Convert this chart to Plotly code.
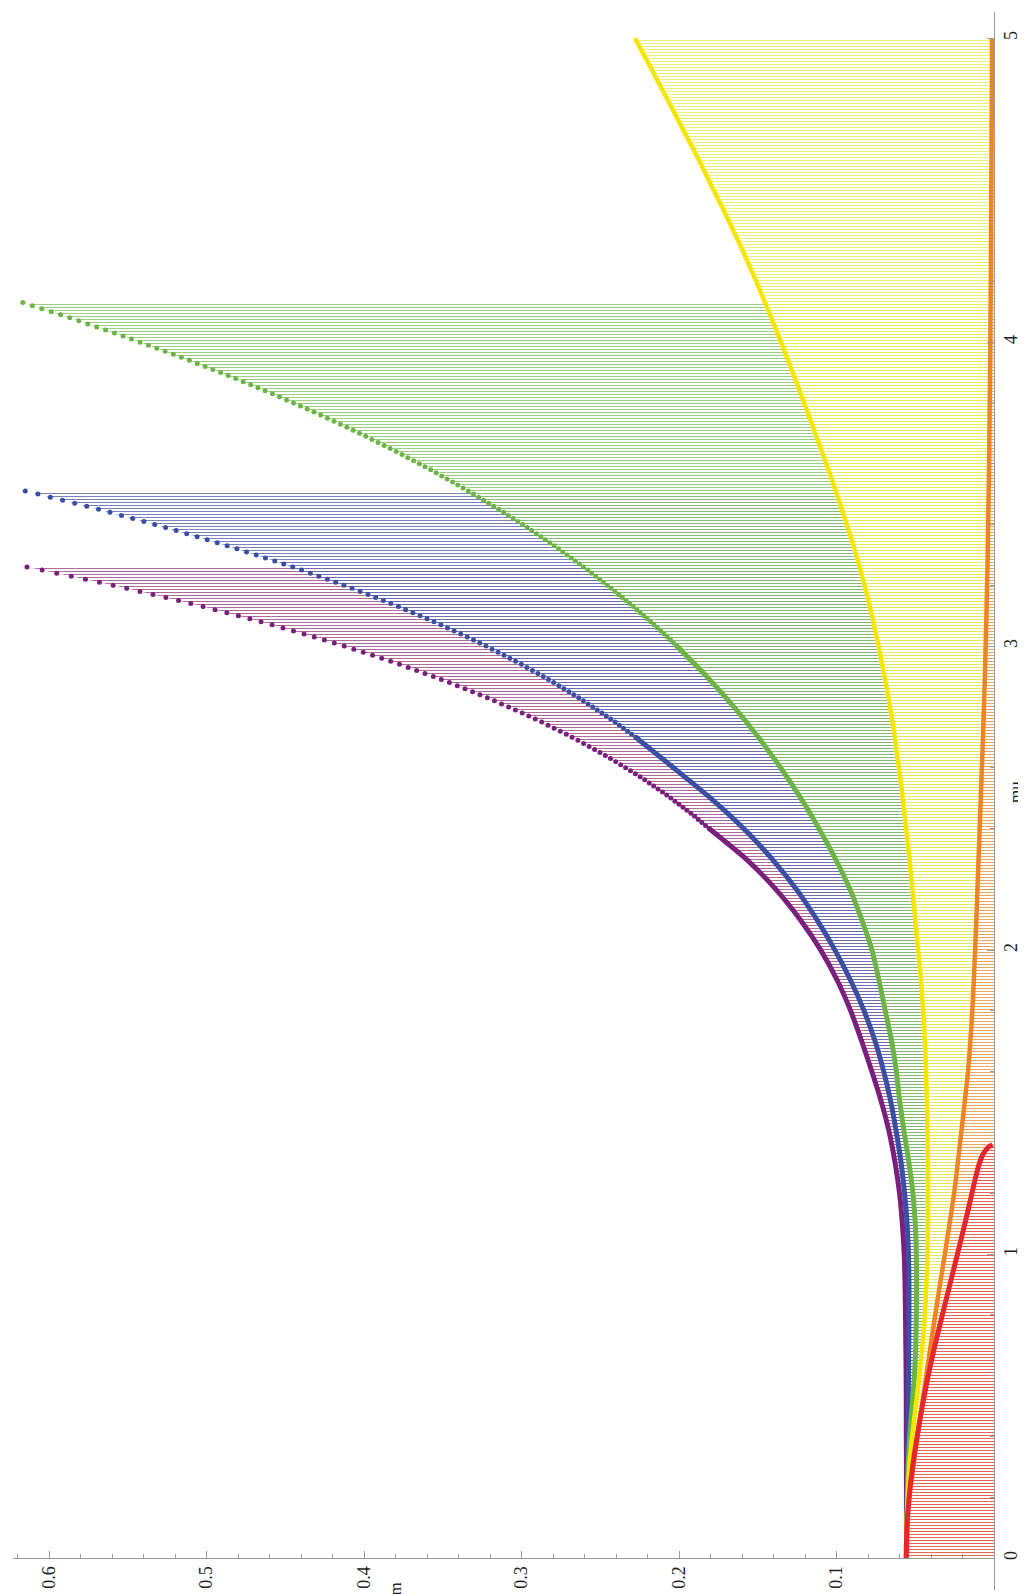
import plotly.graph_objects as go

# ---------------- data (m as a function of mu) ----------------
MU_COARSE = [0.0, 0.1, 0.2, 0.3, 0.4, 0.5, 0.6, 0.7, 0.8, 0.9,
             1.0, 1.1, 1.2, 1.3, 1.4, 1.5, 1.6, 1.7, 1.8, 1.9,
             2.0, 2.1, 2.2, 2.3, 2.4, 2.5, 2.6, 2.7, 2.8, 2.9,
             3.0, 3.1, 3.2, 3.3, 3.4, 3.5, 3.6, 3.7, 3.8, 3.9,
             4.0, 4.1, 4.2, 4.3, 4.4, 4.5, 4.6, 4.7, 4.8, 4.9, 5.0]

purple_coarse = [0.0555, 0.0556, 0.0556, 0.0556, 0.0557, 0.0557, 0.0558, 0.0560, 0.0562, 0.0565,
                 0.0570, 0.0582, 0.0600, 0.0628, 0.0665, 0.0715, 0.0775, 0.0840, 0.0910, 0.0995,
                 0.1100, 0.1230, 0.1385, 0.1575]
purple_fine_start = 2.40
purple_fine = [0.1809, 0.1832, 0.1855, 0.1878, 0.1901, 0.1925, 0.1950, 0.1975, 0.2000, 0.2026,
               0.2052, 0.2078, 0.2105, 0.2133, 0.2161, 0.2189, 0.2218, 0.2247, 0.2277, 0.2308,
               0.2339, 0.2370, 0.2402, 0.2435, 0.2468, 0.2502, 0.2536, 0.2571, 0.2606, 0.2642,
               0.2679, 0.2716, 0.2754, 0.2793, 0.2832, 0.2872, 0.2913, 0.2954, 0.2996, 0.3039,
               0.3082, 0.3127, 0.3172, 0.3217, 0.3264, 0.3311, 0.3359, 0.3408, 0.3458, 0.3509,
               0.3560, 0.3613, 0.3666, 0.3720, 0.3775, 0.3831, 0.3888, 0.3946, 0.4005, 0.4065,
               0.4126, 0.4189, 0.4252, 0.4316, 0.4381, 0.4448, 0.4515, 0.4584, 0.4654, 0.4725,
               0.4798, 0.4871, 0.4946, 0.5022, 0.5100, 0.5178, 0.5258, 0.5340, 0.5423, 0.5507,
               0.5593, 0.5680, 0.5769, 0.5859, 0.5951, 0.6044, 0.6140]

blue_coarse = [0.0555, 0.0554, 0.0552, 0.0550, 0.0547, 0.0545, 0.0543, 0.0541, 0.0540, 0.0540,
               0.0543, 0.0552, 0.0568, 0.0590, 0.0620, 0.0655, 0.0700, 0.0755, 0.0825, 0.0910,
               0.1010, 0.1125, 0.1255, 0.1410, 0.1590, 0.1800, 0.2035]
blue_fine_start = 2.70
blue_fine = [0.2275, 0.2301, 0.2326, 0.2353, 0.2379, 0.2406, 0.2434, 0.2462, 0.2490, 0.2519,
             0.2548, 0.2577, 0.2607, 0.2637, 0.2668, 0.2699, 0.2731, 0.2763, 0.2796, 0.2829,
             0.2862, 0.2896, 0.2931, 0.2966, 0.3001, 0.3038, 0.3074, 0.3111, 0.3149, 0.3187,
             0.3226, 0.3265, 0.3305, 0.3345, 0.3386, 0.3428, 0.3470, 0.3512, 0.3556, 0.3600,
             0.3644, 0.3690, 0.3736, 0.3782, 0.3830, 0.3877, 0.3926, 0.3975, 0.4025, 0.4076,
             0.4128, 0.4180, 0.4233, 0.4287, 0.4341, 0.4397, 0.4453, 0.4510, 0.4567, 0.4626,
             0.4685, 0.4746, 0.4807, 0.4869, 0.4932, 0.4996, 0.5060, 0.5126, 0.5193, 0.5260,
             0.5329, 0.5398, 0.5469, 0.5540, 0.5613, 0.5686, 0.5761, 0.5837, 0.5914, 0.5992,
             0.6071, 0.6151]

green_coarse = [0.0555, 0.0553, 0.0550, 0.0545, 0.0535, 0.0520, 0.0505, 0.0497, 0.0493, 0.0492,
                0.0493, 0.0500, 0.0515, 0.0540, 0.0570, 0.0598, 0.0620, 0.0650, 0.0690, 0.0730,
                0.0775, 0.0840, 0.0915, 0.1007, 0.1112, 0.1227, 0.1355, 0.1496, 0.1652, 0.1824]
green_fine_start = 3.00
green_fine = [0.2014, 0.2034, 0.2054, 0.2075, 0.2095, 0.2116, 0.2137, 0.2158, 0.2180, 0.2202,
              0.2224, 0.2246, 0.2268, 0.2291, 0.2314, 0.2337, 0.2360, 0.2383, 0.2407, 0.2431,
              0.2455, 0.2480, 0.2504, 0.2529, 0.2555, 0.2580, 0.2606, 0.2632, 0.2658, 0.2684,
              0.2711, 0.2738, 0.2765, 0.2793, 0.2821, 0.2849, 0.2877, 0.2906, 0.2935, 0.2964,
              0.2993, 0.3023, 0.3053, 0.3084, 0.3114, 0.3145, 0.3177, 0.3208, 0.3240, 0.3272,
              0.3305, 0.3338, 0.3371, 0.3405, 0.3438, 0.3473, 0.3507, 0.3542, 0.3577, 0.3613,
              0.3649, 0.3685, 0.3722, 0.3759, 0.3796, 0.3834, 0.3872, 0.3911, 0.3950, 0.3989,
              0.4029, 0.4069, 0.4109, 0.4150, 0.4191, 0.4233, 0.4275, 0.4318, 0.4361, 0.4404,
              0.4448, 0.4492, 0.4537, 0.4582, 0.4628, 0.4674, 0.4720, 0.4767, 0.4815, 0.4863,
              0.4911, 0.4960, 0.5009, 0.5059, 0.5109, 0.5160, 0.5211, 0.5263, 0.5316, 0.5369,
              0.5422, 0.5476, 0.5530, 0.5585, 0.5641, 0.5697, 0.5754, 0.5811, 0.5869, 0.5927,
              0.5986, 0.6046, 0.6106, 0.6167]

yellow_m = [0.0556, 0.0556, 0.0548, 0.0538, 0.0520, 0.0497, 0.0474, 0.0454, 0.0439, 0.0429,
            0.0423, 0.0420, 0.0419, 0.0420, 0.0422, 0.0426, 0.0431, 0.0439, 0.0450, 0.0464,
            0.0482, 0.0500, 0.0518, 0.0537, 0.0558, 0.0580, 0.0604, 0.0630, 0.0660, 0.0695,
            0.0733, 0.0775, 0.0822, 0.0875, 0.0935, 0.0998, 0.1065, 0.1135, 0.1205, 0.1278,
            0.1353, 0.1430, 0.1510, 0.1595, 0.1685, 0.1780, 0.1875, 0.1975, 0.2075, 0.2177,
            0.2280]

orange_m = [0.0556, 0.0552, 0.0537, 0.0513, 0.0486, 0.0458, 0.0430, 0.0402, 0.0373, 0.0343,
            0.0312, 0.0282, 0.0253, 0.0230, 0.0208, 0.0186, 0.0165, 0.0150, 0.0138, 0.0128,
            0.0120, 0.0112, 0.0105, 0.0098, 0.0091, 0.0084, 0.0077, 0.0070, 0.0064, 0.0058,
            0.0053, 0.0048, 0.0044, 0.0040, 0.0037, 0.0034, 0.0031, 0.0029, 0.0027, 0.0025,
            0.0023, 0.0022, 0.0020, 0.0019, 0.0018, 0.0017, 0.0016, 0.0015, 0.0014, 0.0013,
            0.0013]

red_mu = [0.0, 0.1, 0.2, 0.3, 0.4, 0.5, 0.6, 0.7, 0.8, 0.9, 1.0, 1.1, 1.2, 1.25, 1.3, 1.33, 1.35, 1.36]
red_m = [0.0558, 0.0553, 0.0539, 0.0517, 0.0488, 0.0455, 0.0418, 0.0375, 0.0328, 0.0280,
         0.0232, 0.0185, 0.0140, 0.0118, 0.0092, 0.0068, 0.0040, 0.0010]

M_TICKS = [0.1, 0.2, 0.3, 0.4, 0.5, 0.6]
M_TICK_TEXT = ["0.1", "0.2", "0.3", "0.4", "0.5", "0.6"]
MU_TICKS = [0, 1, 2, 3, 4, 5]
MU_TICK_TEXT = ["0", "1", "2", "3", "4", "5"]


def fine_grid(start, n):
    return [round(start + 0.01 * i, 2) for i in range(n)]


series = [
    dict(cmu=MU_COARSE[:len(purple_coarse)], cm=purple_coarse,
         fmu=fine_grid(purple_fine_start, len(purple_fine)), fm=purple_fine,
         col="#7a1f7c", stem="rgba(160,80,140,0.85)", w=5),
    dict(cmu=MU_COARSE[:len(blue_coarse)], cm=blue_coarse,
         fmu=fine_grid(blue_fine_start, len(blue_fine)), fm=blue_fine,
         col="#3a4fa3", stem="rgba(95,110,180,0.85)", w=5),
    dict(cmu=MU_COARSE[:len(green_coarse)], cm=green_coarse,
         fmu=fine_grid(green_fine_start, len(green_fine)), fm=green_fine,
         col="#6cb544", stem="rgba(140,200,110,0.85)", w=5),
    dict(cmu=MU_COARSE, cm=yellow_m, fmu=[], fm=[],
         col="#f5e600", stem="rgba(240,238,100,0.9)", w=4.5),
    dict(cmu=MU_COARSE, cm=orange_m, fmu=[], fm=[],
         col="#f08424", stem="rgba(235,160,100,0.9)", w=4.5),
    dict(cmu=red_mu, cm=red_m, fmu=[], fm=[],
         col="#e8252b", stem="rgba(225,85,85,0.8)", w=5),
]

fig = go.Figure()

# stems (filling to the axis m = 0) as horizontal line hatching
for s in series:
    fig.add_trace(go.Scatter(
        x=s["cm"] + s["fm"], y=s["cmu"] + s["fmu"], mode="lines",
        line=dict(width=0, color="rgba(0,0,0,0)"),
        fill="tozerox", fillcolor="rgba(0,0,0,0)",
        fillpattern=dict(shape="-", size=3, solidity=0.34, fgcolor=s["stem"],
                         bgcolor="rgba(0,0,0,0)", fillmode="replace"),
        hoverinfo="skip", showlegend=False))

# dense parts of the curves (points merge into a thick line)
for s in series:
    xs = s["cm"] + s["fm"][:1]
    ys = s["cmu"] + s["fmu"][:1]
    fig.add_trace(go.Scatter(
        x=xs, y=ys, mode="lines",
        line=dict(width=s["w"], color=s["col"], shape="spline", smoothing=0.6),
        hoverinfo="skip", showlegend=False))

# separated points
for s in series:
    if s["fm"]:
        fig.add_trace(go.Scatter(
            x=s["fm"], y=s["fmu"], mode="markers",
            marker=dict(size=5, color=s["col"], line=dict(width=0)),
            hoverinfo="skip", showlegend=False))

axis_font = dict(family="Liberation Serif, Times New Roman, serif", size=18, color="#222")
title_font = dict(family="Liberation Serif, Times New Roman, serif", size=17, color="#222")

fig.update_layout(
    width=1026, height=1594,
    margin=dict(l=5, r=40, t=4, b=12),
    paper_bgcolor="white", plot_bgcolor="white",
    showlegend=False,
    xaxis=dict(range=[0.6229, 0], showgrid=False, zeroline=False,
               showline=True, linecolor="#9a9a9a", linewidth=1,
               anchor="free", position=0.0202,
               tickmode="array", tickvals=M_TICKS, ticktext=M_TICK_TEXT,
               ticks="inside", ticklen=7, tickcolor="#9a9a9a", tickangle=-90,
               tickfont=axis_font,
               minor=dict(dtick=0.02, tick0=0, ticks="inside", ticklen=4,
                          tickcolor="#9a9a9a")),
    yaxis=dict(range=[-0.105, 5.086], showgrid=False, zeroline=False,
               showline=True, linecolor="#9a9a9a", linewidth=1,
               side="right", anchor="x",
               tickmode="array", tickvals=MU_TICKS, ticktext=MU_TICK_TEXT,
               ticks="inside", ticklen=7, tickcolor="#9a9a9a", tickangle=-90,
               tickfont=axis_font,
               minor=dict(dtick=0.2, tick0=0, ticks="inside", ticklen=4,
                          tickcolor="#9a9a9a")),
    annotations=[
        dict(text="m", x=0.38, y=0.0006, xref="x", yref="paper", showarrow=False,
             textangle=-90, font=title_font, xanchor="center", yanchor="middle"),
        dict(text="mu", x=1.0214, y=2.52, xref="paper", yref="y", showarrow=False,
             textangle=-90, font=title_font, xanchor="center", yanchor="middle"),
    ],
)

fig.write_html("out.html")
